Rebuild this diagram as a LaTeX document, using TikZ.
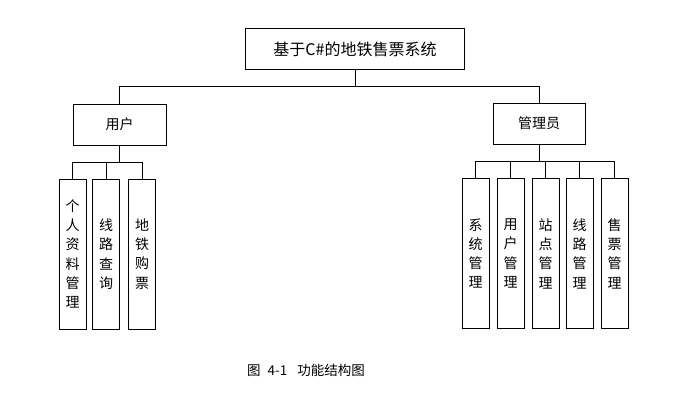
\documentclass[tikz,border=0pt]{standalone}
\usepackage{fontspec}
\newfontfamily\cjk{Noto Sans CJK SC}
\tikzset{
  box/.style={draw=black, line width=0.9pt, fill=white, inner sep=0pt, font=\cjk\fontsize{14}{19.3}\selectfont},
  vbox/.style={box, minimum width=27pt, minimum height=150pt, align=center},
  conn/.style={draw=black, line width=1pt},
}
\begin{document}
\begin{tikzpicture}[x=1pt,y=-1pt]
\useasboundingbox[fill=white] (0,0) rectangle (678,410);
% top level
\node[box, minimum width=219pt, minimum height=41pt, font=\cjk\fontsize{16}{19}\selectfont] (root) at (355,49) {基于C\#的地铁售票系统};
\node[box, minimum width=93pt, minimum height=41pt] (user) at (119.5,124.5) {用户};
\node[box, minimum width=92pt, minimum height=41pt] (admin) at (539,123.5) {管理员};
% user children
\node[vbox] (u1) at (72.5,254) {个\\人\\资\\料\\管\\理};
\node[vbox] (u2) at (106,254) {线\\路\\查\\询};
\node[vbox] (u3) at (142,254) {地\\铁\\购\\票};
% admin children
\node[vbox] (a1) at (475.5,253.5) {系\\统\\管\\理};
\node[vbox] (a2) at (510.5,253.5) {用\\户\\管\\理};
\node[vbox] (a3) at (545.5,253.5) {站\\点\\管\\理};
\node[vbox] (a4) at (579.5,253.5) {线\\路\\管\\理};
\node[vbox] (a5) at (614.5,253.5) {售\\票\\管\\理};
% connectors
\draw[conn] (root.south) -- ++(0,17) coordinate (bus);
\draw[conn] (bus) -| (user.north);
\draw[conn] (bus) -| (admin.north);
\draw[conn] (user.south) -- ++(0,17) coordinate (ubus);
\foreach \c in {u1,u2,u3} \draw[conn] (ubus) -| (\c.north);
\draw[conn] (admin.south) -- ++(0,17) coordinate (abus);
\foreach \c in {a1,a2,a3,a4,a5} \draw[conn] (abus) -| (\c.north);
% caption
\node[font=\cjk\fontsize{13.5}{16}\selectfont] (cap) at (306,370) {图\hspace{7pt}4-1\hspace{10pt}功能结构图};
\end{tikzpicture}
\end{document}
